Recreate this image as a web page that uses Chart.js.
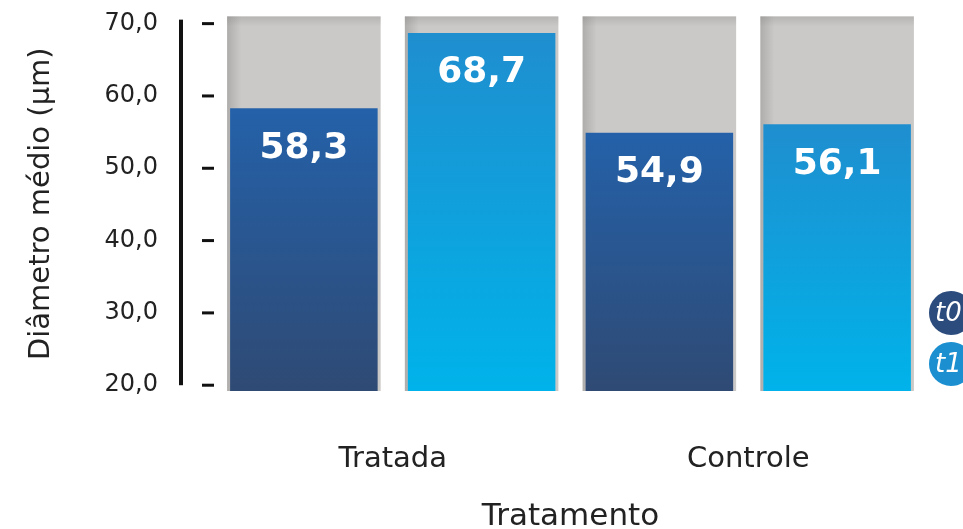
<!DOCTYPE html>
<html>
<head>
<meta charset="utf-8">
<script src="https://cdn.jsdelivr.net/npm/chart.js@4"></script>
<style>
    html, body { margin: 0; padding: 0; background: #fff; }
    #wrap { width: 963px; height: 529px; }
</style>
</head>
<body>
<div id="wrap"><canvas id="diameter-chart"></canvas></div>
<script>
const categories = ["Tratada", "Controle"];
const seriesNames = ["t0", "t1"];
const t0Values = [58.3, 54.9];
const t1Values = [68.7, 56.1];
const yTicks = [20, 30, 40, 50, 60, 70];
const yMin = 19.2;
const yMax = 71;

const textColor = "#222";
const legendColors = ["#2c4c7e", "#1b8fd0"];

const fmt = (v) => Number(v).toFixed(1).replace(".", ",");

function barGradient(top, bottom) {
    return (ctx) => {
        const chart = ctx.chart;
        const area = chart.chartArea;
        if (!area || typeof ctx.raw !== "number") return bottom;
        const y = chart.scales.y.getPixelForValue(ctx.raw);
        const g = chart.ctx.createLinearGradient(0, y, 0, area.bottom);
        g.addColorStop(0, top);
        g.addColorStop(1, bottom);
        return g;
    };
}

// gray "track" behind every bar
const trackPlugin = {
    id: "track",
    beforeDatasetsDraw(chart) {
        const { ctx, chartArea } = chart;
        ctx.save();
        chart.data.datasets.forEach((ds, i) => {
            chart.getDatasetMeta(i).data.forEach((bar) => {
                const w = bar.width + 6;
                const x = bar.x - w / 2;
                const h = chartArea.bottom - chartArea.top;
                ctx.fillStyle = "#cbc9c8";
                ctx.fillRect(x, chartArea.top, w, h);
                const g = ctx.createLinearGradient(x, 0, x + 14, 0);
                g.addColorStop(0, "rgba(110,108,107,0.3)");
                g.addColorStop(1, "rgba(110,108,107,0)");
                ctx.fillStyle = g;
                ctx.fillRect(x, chartArea.top, 14, h);
                const g2 = ctx.createLinearGradient(0, chartArea.top, 0, chartArea.top + 10);
                g2.addColorStop(0, "rgba(110,108,107,0.22)");
                g2.addColorStop(1, "rgba(110,108,107,0)");
                ctx.fillStyle = g2;
                ctx.fillRect(x, chartArea.top, w, 10);
            });
        });
        ctx.restore();
    },
};

// black axis line plus the small dashes
const axisPlugin = {
    id: "axisMarks",
    afterDraw(chart) {
        const { ctx } = chart;
        const y = chart.scales.y;
        const top = y.getPixelForValue(yTicks[yTicks.length - 1]) - 4;
        const bottom = y.getPixelForValue(yTicks[0]);
        ctx.save();
        ctx.fillStyle = "#111";
        ctx.fillRect(y.right - 36, top, 4, bottom - top);
        yTicks.forEach((v) => {
            const py = y.getPixelForValue(v);
            ctx.fillRect(y.right - 13, py - 1.5, 12, 3);
        });
        ctx.restore();
    },
};

// white values inside the bars
const valuePlugin = {
    id: "values",
    afterDatasetsDraw(chart) {
        const { ctx } = chart;
        ctx.save();
        ctx.fillStyle = "#fff";
        ctx.font = "bold 36px 'DejaVu Sans'";
        ctx.textAlign = "center";
        ctx.textBaseline = "middle";
        chart.data.datasets.forEach((ds, i) => {
            chart.getDatasetMeta(i).data.forEach((bar, j) => {
                ctx.fillText(fmt(ds.data[j]), bar.x, bar.y + 40);
            });
        });
        ctx.restore();
    },
};

// round legend badges at the right edge
const badgePlugin = {
    id: "badges",
    afterDraw(chart) {
        const { ctx, chartArea } = chart;
        ctx.save();
        chart.data.datasets.forEach((ds, i) => {
            const cx = chartArea.right + 25;
            const cy = chartArea.bottom - 78 + i * 51;
            ctx.beginPath();
            ctx.arc(cx, cy, 23, 0, Math.PI * 2);
            ctx.fillStyle = legendColors[i];
            ctx.fill();
            ctx.lineWidth = 2;
            ctx.strokeStyle = "#fff";
            ctx.stroke();
            ctx.fillStyle = "#fff";
            ctx.font = "italic 26px 'DejaVu Sans'";
            ctx.textAlign = "left";
            ctx.textBaseline = "middle";
            ctx.fillText(ds.label, cx - 16, cy + 1);
        });
        ctx.restore();
    },
};

new Chart(document.getElementById("diameter-chart"), {
    type: "bar",
    data: {
        labels: categories,
        datasets: [
            {
                label: seriesNames[0],
                data: t0Values,
                backgroundColor: barGradient("#2461a9", "#2f4a74"),
                base: yMin,
            },
            {
                label: seriesNames[1],
                data: t1Values,
                backgroundColor: barGradient("#1f8ecf", "#00b3ea"),
                base: yMin,
            },
        ],
    },
    options: {
        responsive: true,
        maintainAspectRatio: false,
        animation: false,
        categoryPercentage: 1.0,
        barPercentage: 0.83,
        layout: { padding: { top: 16, right: 37 } },
        plugins: {
            legend: { display: false },
            tooltip: { enabled: false },
        },
        scales: {
            x: {
                grid: { display: false, drawTicks: true, tickLength: 51 },
                border: { display: false },
                ticks: {
                    padding: 0,
                    color: textColor,
                    font: { family: "DejaVu Sans", size: 29 },
                },
                title: {
                    display: true,
                    text: "Tratamento",
                    color: textColor,
                    font: { family: "DejaVu Sans", size: 31 },
                    padding: { top: 0, bottom: -7 },
                },
                afterFit(scale) {
                    scale.height = 138;
                },
            },
            y: {
                min: yMin,
                max: yMax,
                afterBuildTicks(scale) {
                    scale.ticks = yTicks.map((v) => ({ value: v }));
                },
                grid: { display: false, drawTicks: true, tickLength: 55 },
                border: { display: false },
                ticks: {
                    padding: 2,
                    color: textColor,
                    font: { family: "DejaVu Sans", size: 24 },
                    callback: (v) => fmt(v),
                },
                title: {
                    display: true,
                    text: "Diâmetro médio (µm)",
                    color: textColor,
                    font: { family: "DejaVu Sans", size: 29 },
                    padding: { top: 24, bottom: 0 },
                },
                afterFit(scale) {
                    scale.width = 215;
                },
            },
        },
    },
    plugins: [trackPlugin, axisPlugin, valuePlugin, badgePlugin],
});
</script>
</body>
</html>
